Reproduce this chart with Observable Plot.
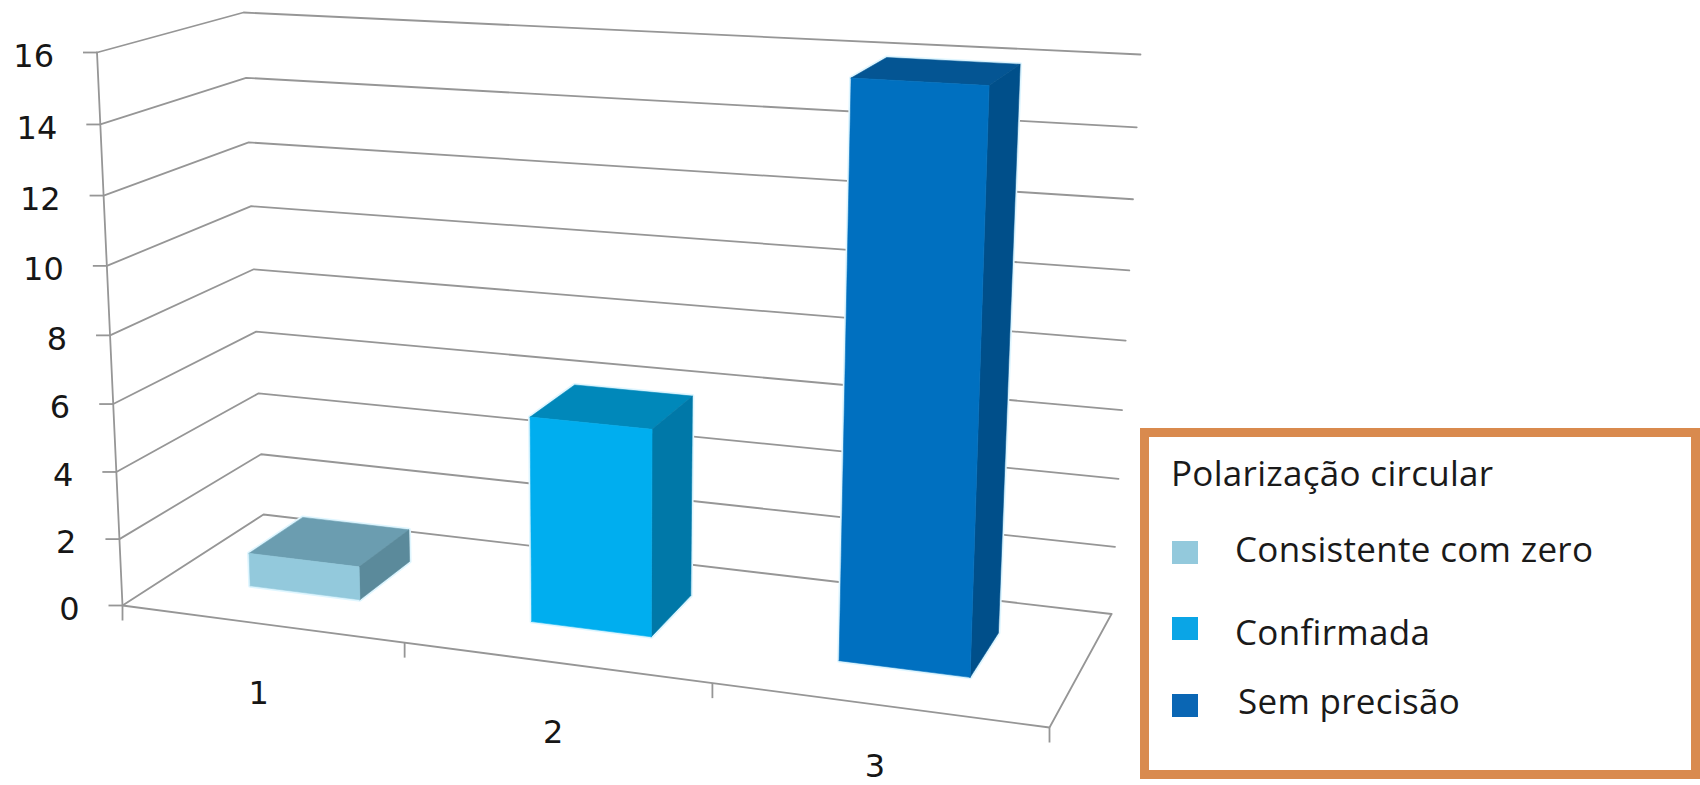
<!DOCTYPE html>
<html lang="pt">
<head>
<meta charset="utf-8">
<script src="https://cdn.jsdelivr.net/npm/d3@7"></script>
<script src="https://cdn.jsdelivr.net/npm/@observablehq/plot@0.6"></script>
<style>
  html, body { margin: 0; padding: 0; background: #fff; width: 1700px; height: 785px; overflow: hidden; }
  #chart { position: absolute; left: 0; top: 0; }
  #legend {
    position: absolute; left: 1140px; top: 428px; width: 560px; height: 351px;
    box-sizing: border-box; border: 9.5px solid #d98a4e; background: #fff;
    font-family: "Open Sans", sans-serif; font-size: 35px; line-height: 48px; color: #1a1a1a; letter-spacing: 0.3px;
  }
  #legend .title { position: absolute; left: 22px; top: 12px; white-space: nowrap; }
  #legend .row { position: absolute; left: 23px; width: 500px; height: 40px; }
  #legend .swatch { position: absolute; left: 0; top: 8px; width: 26px; height: 23px; }
  #legend .label { position: absolute; white-space: nowrap; }
</style>
</head>
<body>
<div id="chart"></div>
<div id="legend"></div>
<script>
// Chart data
const categories = ["1", "2", "3"];
const barValues = [1, 6, 16];
const valueTicks = [0, 2, 4, 6, 8, 10, 12, 14, 16];
const legendTitle = "Polarização circular";
const seriesNames = ["Consistente com zero", "Confirmada", "Sem precisão"];

// Face shades for each bar
const frontShades = ["#93c9dc", "#00aeef", "#0070c0"];
const topShades = ["#6b9db0", "#0088ba", "#045593"];
const sideShades = ["#5b8a9b", "#0078a8", "#004f8a"];
const swatchShades = ["#93c9dc", "#0aa5e6", "#0a66b4"];

// Corners of the 3D chart box on screen: floor, then the top of the walls
const floorBox = {front0: [122, 605], back0: [263, 514], back1: [1111, 613.5], front1: [1049, 727]};
const roofBox = {front0: [96.5, 52], back0: [243, 12], back1: [1140, 54], front1: [1071, 109]};
const valueMax = 16;

// Foreshortening along the category and the value directions
const foreshorten = (t, r) => (r * t) / (1 + t * (r - 1));
const mix = (a, b, t) => [a[0] + (b[0] - a[0]) * t, a[1] + (b[1] - a[1]) * t];
const onPlane = (box, u, v) => mix(mix(box.front0, box.front1, u), mix(box.back0, box.back1, u), v);

// Maps (category position 0–3, depth 0–1, value) to screen position
function project(cat, depth, value) {
  const u = foreshorten(cat / categories.length, 0.875);
  const h = foreshorten(value / valueMax, 0.955);
  const [x, y] = mix(onPlane(floorBox, u, depth), onPlane(roofBox, u, depth), h);
  return {x, y};
}

const path = (pts) => pts.map(([c, d, w]) => project(c, d, w));
const closed = (pts) => [...path(pts), project(...pts[0])];
const axisStroke = "#969696";
const axisWidth = 1.8;
const line = (pts) => Plot.line(path(pts), {x: "x", y: "y", stroke: axisStroke, strokeWidth: axisWidth, curve: "linear"});
const face = (pts, fill) => Plot.line(closed(pts), {x: "x", y: "y", fill, stroke: fill, strokeWidth: 0.6, curve: "linear"});

const marks = [];
const nCat = categories.length;

// Gridlines run along the left wall and the back wall
for (const v of valueTicks) marks.push(line([[0, 0, v], [0, 1, v], [nCat, 1, v]]));

// Floor outline and the value axis
marks.push(line([[0, 0, 0], [nCat, 0, 0], [nCat, 1, 0]]));
marks.push(line([[0, 0, 0], [0, 0, valueMax]]));

// Tick marks point left from the value axis and down from the category axis
marks.push(Plot.link(valueTicks.map((v) => project(0, 0, v)), {x1: (d) => d.x - 14, y1: "y", x2: "x", y2: "y", stroke: axisStroke, strokeWidth: axisWidth}));
marks.push(Plot.link(d3.range(nCat + 1).map((c) => project(c, 0, 0)), {x1: "x", y1: "y", x2: "x", y2: (d) => d.y + 15, stroke: axisStroke, strokeWidth: axisWidth}));

// Bars: a pale rim behind each, then the top, side and front faces
const barLeft = 0.305, barRight = 0.705, depthFront = 0.33, depthBack = 0.73;
barValues.forEach((value, i) => {
  const c0 = i + barLeft, c1 = i + barRight;
  marks.push(Plot.line(closed([[c0, depthFront, 0], [c1, depthFront, 0], [c1, depthBack, 0], [c1, depthBack, value], [c0, depthBack, value], [c0, depthFront, value]]),
    {x: "x", y: "y", fill: "#dff6ff", stroke: "#dff6ff", strokeWidth: 4, curve: "linear"}));
  marks.push(face([[c0, depthFront, value], [c1, depthFront, value], [c1, depthBack, value], [c0, depthBack, value]], topShades[i]));
  marks.push(face([[c1, depthFront, 0], [c1, depthBack, 0], [c1, depthBack, value], [c1, depthFront, value]], sideShades[i]));
  marks.push(face([[c0, depthFront, 0], [c1, depthFront, 0], [c1, depthFront, value], [c0, depthFront, value]], frontShades[i]));
});

// Axis labels; the last category label is kept inside the frame
const labelFont = {fontFamily: '"DejaVu Sans", sans-serif', fontSize: 32, fill: "#161616"};
marks.push(Plot.text(valueTicks.map((v) => ({...project(0, 0, v), label: String(v)})), {x: "x", y: "y", text: "label", textAnchor: "end", dx: -43, dy: 4, ...labelFont}));
marks.push(Plot.text(categories.map((label, i) => {
  const p = project(i + 0.5, 0, 0);
  return {x: p.x - 2, y: Math.min(p.y + 70, 766), label};
}), {x: "x", y: "y", text: "label", ...labelFont}));

const chartWidth = 1145, chartHeight = 785;
const svg = Plot.plot({
  width: chartWidth,
  height: chartHeight,
  margin: 0,
  x: {domain: [0, chartWidth], range: [0, chartWidth], axis: null},
  y: {domain: [0, chartHeight], range: [0, chartHeight], axis: null},
  style: {background: "transparent", overflow: "visible"},
  marks
});
document.getElementById("chart").appendChild(svg);

// Legend box
const legend = document.getElementById("legend");
const rowTops = [95.5, 171.5, 248.5];
const labelTops = [-8, -1, -9];
const labelLefts = [63, 63, 66];
const addEl = (parent, cls, text) => {
  const el = document.createElement("div");
  el.className = cls;
  if (text) el.textContent = text;
  parent.appendChild(el);
  return el;
};
addEl(legend, "title", legendTitle);
seriesNames.forEach((name, i) => {
  const row = addEl(legend, "row");
  row.style.top = rowTops[i] + "px";
  addEl(row, "swatch").style.background = swatchShades[i];
  const label = addEl(row, "label", name);
  label.style.top = labelTops[i] + "px";
  label.style.left = labelLefts[i] + "px";
});
</script>
</body>
</html>
